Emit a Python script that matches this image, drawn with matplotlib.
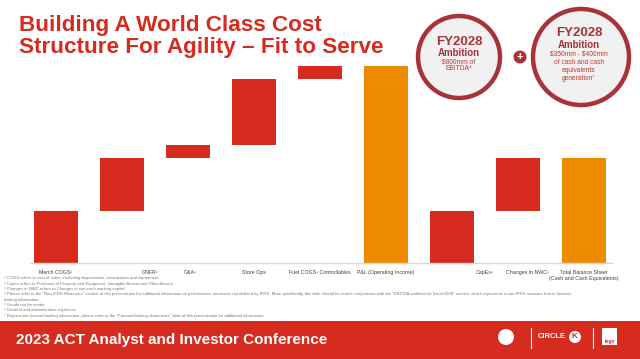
import matplotlib
matplotlib.use('Agg')
import matplotlib.pyplot as plt
from matplotlib.patches import Circle, Rectangle

plt.rcParams['font.family'] = ['Liberation Sans', 'DejaVu Sans']

# waterfall steps (illustrative units, no values shown on the slide)
categories = ['Merch COGS¹', 'GNFR⁵', 'G&A⁶', 'Store Ops', 'Fuel COGS¹ Controllables',
              'P&L (Operating Income)', 'CapEx²', 'Changes in NWC³',
              'Total Balance Sheet\n(Cash and Cash Equivalents)']
bar_bottom = [0, 52, 105, 118, 184, 0, 0, 52, 0]
bar_top = [52, 105, 118, 184, 197, 197, 52, 105, 105]
is_total = [False, False, False, False, False, True, False, False, True]
label_shift = [0, 0.42, 0.03, 0, 0, 0, 0.5, 0.14, 0]

footnotes = [
    '¹ COGS refers to cost of sales, excluding depreciation, amortization and impairment',
    '² Capex refers to Purchase of Property and Equipment, Intangible Assets and Other Assets',
    '³ Changes in NWC refers to Changes in non-cash working capital',
    '⁴ Please refer to the "Non-IFRS Measures" section of this presentation for additional information on performance measures not defined by IFRS. '
    'More specifically, this slide should be read in conjunction with the "EBITDA ambition for fiscal 2028" section, which represents a non-IFRS measure that is forward-',
    'looking information.',
    '⁵ Goods not for resale',
    '⁶ General and administrative expenses',
    '⁷ Represents forward-looking information, please refer to the "Forward-looking statements" slide of this presentation for additional information.',
]

RED = '#D62B1F'
ORANGE = '#EE8A00'
RING = '#A8323A'
W, H = 640, 359

fig = plt.figure(figsize=(6.4, 3.59), dpi=100)

# main bar axes, placed in pixel terms
x0, x1, ybase = 30, 612, 263
ax = fig.add_axes([x0 / W, (H - ybase) / H, (x1 - x0) / W, 200 / H])
xs = list(range(len(categories)))
colors = [ORANGE if t else RED for t in is_total]
heights = [t - b for t, b in zip(bar_top, bar_bottom)]
ax.bar(xs, heights, bottom=bar_bottom, width=0.667, color=colors, edgecolor='none')
ax.set_xlim((x0 - 56) / 66, (x1 - 56) / 66)
ax.set_ylim(0, 200)
for s in ['top', 'right', 'left']:
    ax.spines[s].set_visible(False)
ax.spines['bottom'].set_color('#D9D9D9')
ax.spines['bottom'].set_linewidth(1)
ax.set_yticks([])
ax.set_xticks([x + d for x, d in zip(xs, label_shift)], categories,
              fontsize=3.8, color='#404040', linespacing=1.2)
ax.tick_params(axis='x', length=0, pad=5)

# overlay in pixel coordinates for the slide furniture
ov = fig.add_axes([0, 0, 1, 1], zorder=5)
ov.set_xlim(0, W)
ov.set_ylim(H, 0)
ov.axis('off')

ov.text(19, 26, 'Building A World Class Cost', color=RED, fontsize=16.2,
        fontweight='bold', va='center', ha='left')
ov.text(19, 47, 'Structure For Agility \u2013 Fit to Serve', color=RED, fontsize=16.2,
        fontweight='bold', va='center', ha='left')

# ambition circles
ov.add_patch(Circle((459, 57), 41, facecolor='#F1F1F1', edgecolor=RING, linewidth=3.2))
ov.add_patch(Circle((581, 57), 48, facecolor='#F1F1F1', edgecolor=RING, linewidth=3.2))
ov.add_patch(Circle((520, 57), 6.5, facecolor=RING, edgecolor='none'))
ov.text(520, 57, '+', color='white', fontsize=8, fontweight='bold', ha='center', va='center')

ov.text(459, 42, 'FY2028', color=RING, fontsize=9.5, fontweight='bold', ha='center', va='center')
ov.text(459, 53, 'Ambition', color=RING, fontsize=7, fontweight='bold', ha='center', va='center')
ov.text(459, 62, r'\$800mm of', color='#C0392B', fontsize=4.8, ha='center', va='center')
ov.text(459, 69, 'EBITDA⁴', color='#C0392B', fontsize=4.8, ha='center', va='center')

ov.text(579, 33, 'FY2028', color=RING, fontsize=9.5, fontweight='bold', ha='center', va='center')
ov.text(579, 45, 'Ambition', color=RING, fontsize=7, fontweight='bold', ha='center', va='center')
for yy, t in zip([54, 63, 71, 79], [r'\$350mm - \$400mm', 'of cash and cash', 'equivalents', 'generation⁷']):
    ov.text(579, yy, t, color='#C0392B', fontsize=4.8, ha='center', va='center')

# footnotes
fy = [278, 284, 289, 294, 300, 305, 310, 316]
for yy, t in zip(fy, footnotes):
    ov.text(4, yy, t, color='#7A7A7A', fontsize=3.1, ha='left', va='center')

# footer band
ov.add_patch(Rectangle((0, 321), W, H - 321, facecolor=RED, edgecolor='none'))
ov.text(16, 340, '2023 ACT Analyst and Investor Conference', color='white', fontsize=11,
        fontweight='bold', ha='left', va='center')
ov.add_patch(Circle((506, 337), 8, facecolor='white', edgecolor='none'))
ov.plot([531, 531], [328, 348], color='white', linewidth=0.8)
ov.text(538, 337, 'CIRCLE', color='white', fontsize=5.5, fontweight='bold', ha='left', va='center')
ov.add_patch(Circle((575, 337), 6, facecolor='white', edgecolor='none'))
ov.text(575, 337, 'K', color=RED, fontsize=6, fontweight='bold', ha='center', va='center')
ov.plot([593, 593], [328, 348], color='white', linewidth=0.8)
ov.add_patch(Rectangle((602, 328), 15, 17, facecolor='white', edgecolor='none'))
ov.text(609.5, 341, 'ingo', color=RED, fontsize=3.5, fontweight='bold', ha='center', va='center')

fig.savefig('out.png', dpi=100, facecolor='white')
